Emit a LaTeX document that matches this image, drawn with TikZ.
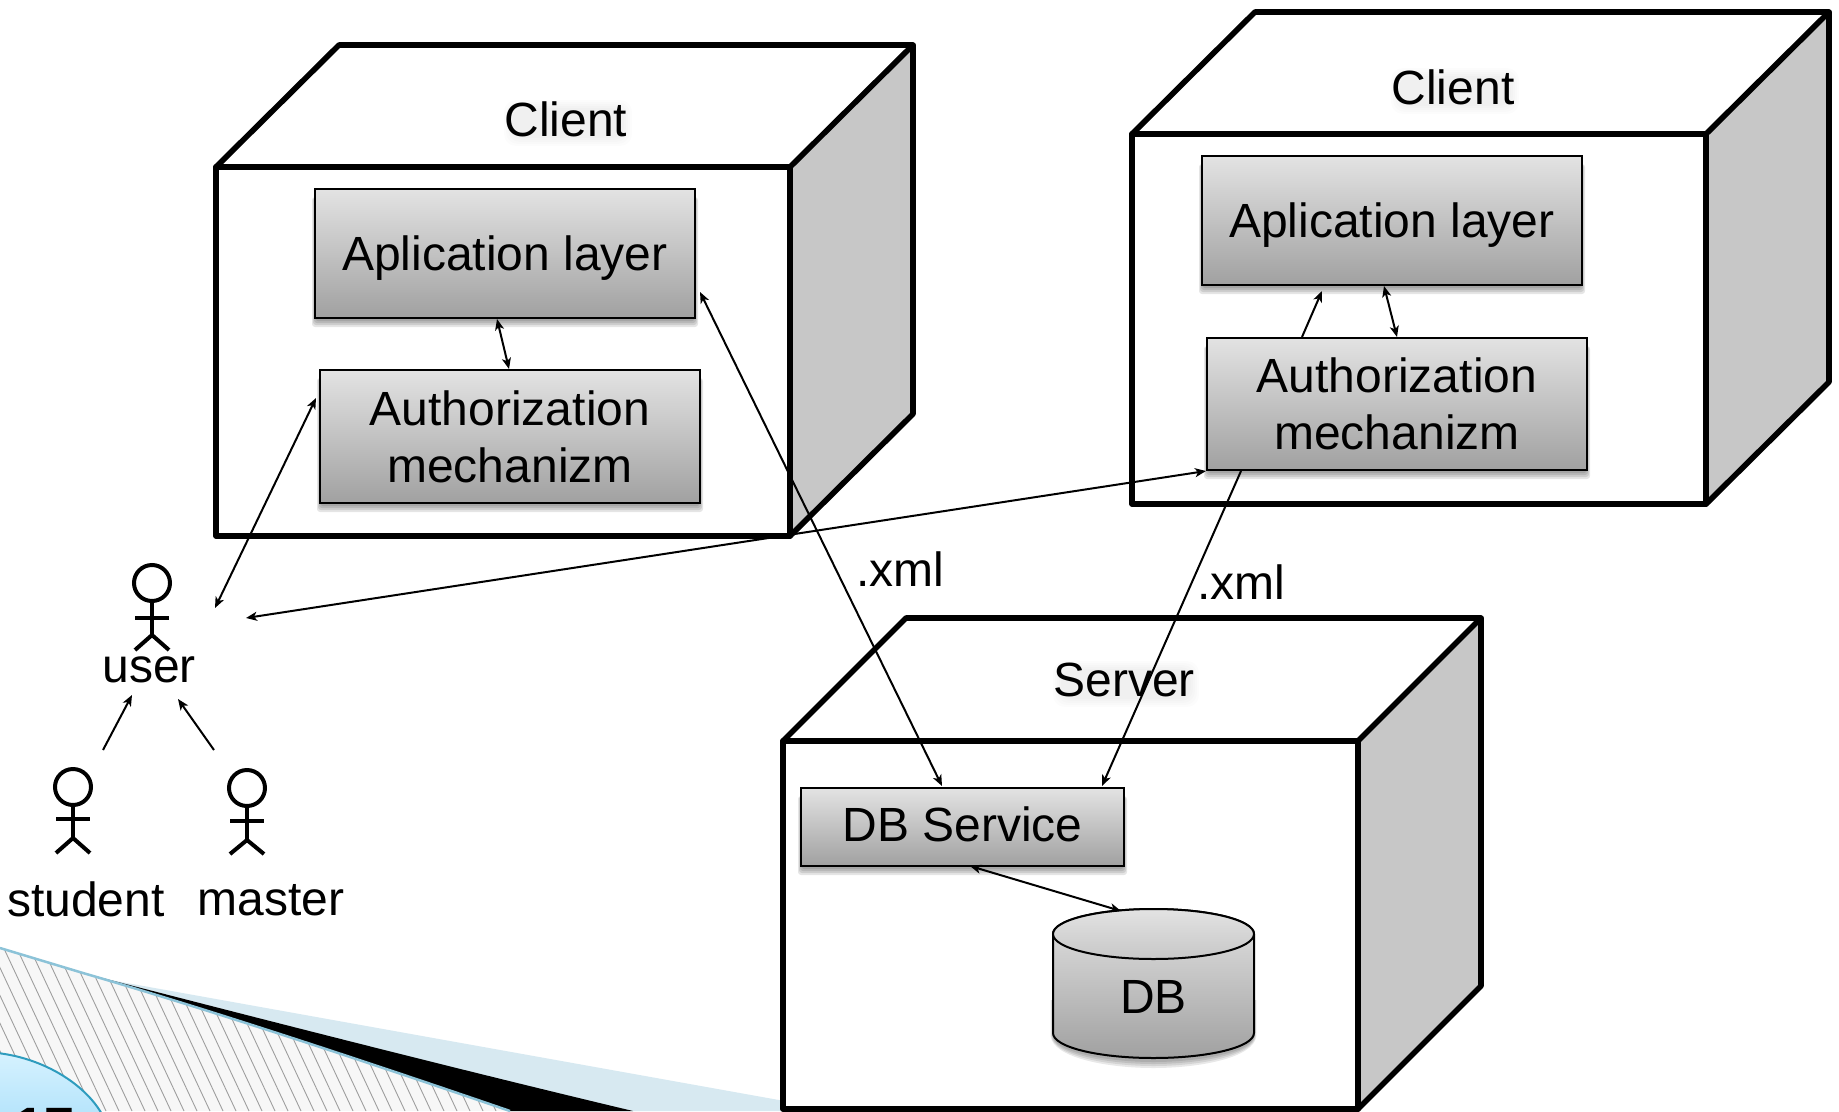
\documentclass[tikz,border=0pt]{standalone}
\usepackage{fontspec}
\setmainfont{Liberation Sans}
\usetikzlibrary{arrows.meta,shapes.geometric}
\definecolor{sideg}{gray}{0.78}
\definecolor{topg}{gray}{0.89}
\definecolor{botg}{gray}{0.63}
\definecolor{wedgeblue}{HTML}{D7E9F1}
\definecolor{edgeblue}{HTML}{8CC3D8}
\definecolor{circedge}{HTML}{2E9CBE}
\definecolor{circtop}{HTML}{D6F2FF}
\definecolor{circbot}{HTML}{B5E4FB}
\tikzset{
  x=1pt,y=-1pt,
  lbl/.style={font=\fontsize{48}{57}\selectfont,text=black,inner sep=0pt,align=center},
  ubox/.style={draw=black,line width=2pt,top color=topg,bottom color=botg,inner sep=0pt,lbl},
  frame/.style={draw=black,line width=5.6pt,line join=round,line cap=round},
  conn/.style={black,line width=2pt},
  one/.style={conn,-{Stealth[length=11pt,width=9pt,inset=3pt]}},
  two/.style={conn,{Stealth[length=11pt,width=9pt,inset=3pt]}-{Stealth[length=11pt,width=9pt,inset=3pt]}},
  actorline/.style={black,line width=4pt},
}
\newcommand{\softshadow}[4]{%
  \foreach \g in {6,4,2,0}{\fill[black,opacity=.10,rounded corners=3pt] (#1-\g*.5,#2+8) rectangle (#3+\g*.5,#4+3+\g);}}
\newcommand{\haze}[4]{%
  \foreach \g in {8,6,4,2,0}{\fill[black,opacity=.012,rounded corners=12pt] (#1-#3/2-\g,#2-#4/2-\g) rectangle (#1+#3/2+\g,#2+#4/2+\g);}}
\newcommand{\boxthree}[6]{% x1 y1 x2 y2 dx dy
  \fill[white] (#1,#2) rectangle (#3,#4);
  \fill[sideg] (#3,#2) -- (#3+#5,#2-#6) -- (#3+#5,#4-#6) -- (#3,#4) -- cycle;
  \draw[frame] (#1,#2) -- (#3,#2) -- (#3,#4) -- (#1,#4) -- cycle;
  \draw[frame] (#1,#2) -- (#1+#5,#2-#6) -- (#3+#5,#2-#6) -- (#3,#2);
  \draw[frame] (#3+#5,#2-#6) -- (#3+#5,#4-#6) -- (#3,#4);
}
\newcommand{\actor}[6]{% cx head-y r arm-y hip-y foot-y
  \draw[actorline] (#1,#2) circle (#3);
  \draw[actorline] (#1,#2+#3) -- (#1,#5);
  \draw[actorline] (#1-17,#4) -- (#1+17,#4);
  \draw[actorline] (#1-17,#6) -- (#1,#5) -- (#1+17,#6);
}
\begin{document}
\begin{tikzpicture}
\useasboundingbox (0,0) rectangle (1839,1111);
\fill[white] (0,0) rectangle (1839,1111);
% bottom-left slide decoration
\begin{scope}
\clip (0,0) rectangle (1839,1111);
\fill[wedgeblue] (110,980) -- (790,1102) -- (790,1111) -- (620,1111) -- cycle;
\fill[black] (83,973) .. controls (250,1016) and (440,1065) .. (633,1111) -- (510,1111) -- cycle;
\begin{scope}
\clip (0,948) -- (83,973) .. controls (200,1007) and (350,1056) .. (510,1111) -- (0,1111) -- cycle;
\fill[white!97!black] (0,948) rectangle (520,1111);
\foreach \i in {-10,...,42}{\draw[black!38,line width=.9pt] (\i*13,940) -- (\i*13+80,1111);}
\end{scope}
\draw[edgeblue,line width=2.5pt] (0,948) -- (83,973) .. controls (200,1007) and (350,1056) .. (510,1111);
\draw[circedge,line width=2pt,top color=circtop,bottom color=circbot] (-20,1052) .. controls (35,1052) and (85,1082) .. (103,1116) -- (0,1116) -- (-20,1116) -- cycle;
\node[inner sep=0pt,font=\bfseries\fontsize{54}{64}\selectfont] (pageno) at (45,1127) {17};
\end{scope}
% left client
\boxthree{216}{167}{790}{536}{123}{122}
\softshadow{315}{189}{695}{318}
\softshadow{320}{370}{700}{503}
\haze{568}{123}{112}{30}
\node[lbl] (c1t) at (566,119) {Client};
\node[ubox,text height=33pt,text depth=0pt,minimum width=380pt,minimum height=129pt] (app1) at (505,253.5) {Aplication layer};
\node[ubox,minimum width=380pt,minimum height=133pt] (auth1) at (510,436.5) {Authorization\\mechanizm};
% right client
\boxthree{1132}{134}{1706}{504}{123}{122}
\softshadow{1202}{156}{1582}{285}
\softshadow{1207}{338}{1587}{470}
\haze{1455}{91}{112}{30}
\node[lbl] (c2t) at (1453,87) {Client};
\node[ubox,text height=33pt,text depth=0pt,minimum width=380pt,minimum height=129pt] (app2) at (1392,220.5) {Aplication layer};
\node[ubox,minimum width=380pt,minimum height=132pt] (auth2) at (1397,404) {Authorization\\mechanizm};
% server
\boxthree{783}{741}{1358}{1109}{123}{123}
\haze{1126}{684}{130}{30}
\node[lbl] (st) at (1124,680) {Server};
\softshadow{801}{788}{1124}{866}
\node[ubox,text height=29.4pt,text depth=0pt,minimum width=323pt,minimum height=78pt] (dbs) at (962.5,827) {DB Service};
% DB cylinder
\foreach \g in {6,4,2,0}{\fill[black,opacity=.09] (1053-\g*.4,1000) -- (1053-\g*.4,1036) .. controls (1053,1052+\g) and (1108,1062+\g) .. (1153.5,1062+\g) .. controls (1199,1062+\g) and (1254,1052+\g) .. (1254+\g*.4,1036) -- (1254+\g*.4,1000) -- cycle;}
\draw[line width=2pt,top color=topg,bottom color=botg] (1053,934) -- (1053,1033) .. controls (1053,1047) and (1098,1058) .. (1153.5,1058) .. controls (1209,1058) and (1254,1047) .. (1254,1033) -- (1254,934) .. controls (1254,920) and (1209,909) .. (1153.5,909) .. controls (1098,909) and (1053,920) .. (1053,934) -- cycle;
\draw[line width=2pt,top color=topg,bottom color=sideg] (1053,934) .. controls (1053,948) and (1098,959) .. (1153.5,959) .. controls (1209,959) and (1254,948) .. (1254,934) .. controls (1254,920) and (1209,909) .. (1153.5,909) .. controls (1098,909) and (1053,920) .. (1053,934) -- cycle;
\node[lbl] (db) at (1153.5,997) {DB};
% actors
\actor{152}{583}{18}{618}{635}{650}
\actor{73}{787}{18}{819}{838}{853}
\actor{247}{788}{18}{821}{840}{854}
\node[lbl] (user) at (149,669.5) {user};
\node[lbl] (student) at (86,899) {student};
\node[lbl] (master) at (271,900) {master};
% free connector ends
\coordinate (uA) at (215,608);
\coordinate (uB) at (246,618);
\coordinate (uC) at (132,695);
\coordinate (uD) at (178,699);
\coordinate (sT) at (103,750);
\coordinate (mT) at (214,750);
% connectors
\draw[two] (uA) -- (316,398);
\draw[two] (uB) -- (1206,471);
\draw[one] (sT) -- (uC);
\draw[one] (mT) -- (uD);
\draw[two] (497,319) -- (509,369);
\draw[two] (700,292) -- (942,786);
\draw[one] (1241,471) -- (1102,786);
\draw[one] (1302,337) -- (1322,291);
\draw[two] (1384,286) -- (1397,337);
\draw[two] (970,866) -- (1121,911);
\node[lbl] (x1) at (900,569) {.xml};
\node[lbl] (x2) at (1241,582) {.xml};
\end{tikzpicture}
\end{document}
